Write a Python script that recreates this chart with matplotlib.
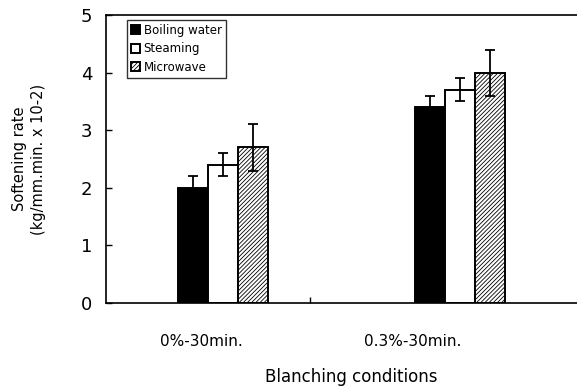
import matplotlib
matplotlib.use("Agg")
import matplotlib.pyplot as plt
import numpy as np

categories = ["0%-30min.", "0.3%-30min."]
series = ["Boiling water", "Steaming", "Microwave"]
boiling = [2.0, 3.4]
steaming = [2.4, 3.7]
microwave = [2.7, 4.0]
boiling_err = [0.2, 0.2]
steaming_err = [0.2, 0.2]
microwave_err = [0.4, 0.4]

plt.rcParams['hatch.linewidth'] = 0.6
fig = plt.figure(figsize=(5.77, 3.9), dpi=100)
ax = fig.add_axes([106/577, 87/390, 490/577, 288/390])

label_pos = np.array([0.0, 1.0])
group_centers = np.array([0.105, 1.222])
w = 0.142

styles = [dict(color="black", edgecolor="black"),
          dict(color="white", edgecolor="black"),
          dict(color="white", edgecolor="black", hatch="////////")]
vals = [boiling, steaming, microwave]
errs = [boiling_err, steaming_err, microwave_err]
for i, (name, v, e, st) in enumerate(zip(series, vals, errs, styles)):
    x = group_centers + (i - 1) * w
    ax.bar(x, v, width=w, linewidth=1.4, label=name, zorder=2, **st)
    ax.errorbar(x, v, yerr=e, fmt="none", ecolor="black", elinewidth=1.3,
                capsize=3.3, capthick=1.3, zorder=3)

ax.set_ylim(0, 5)
ax.set_xlim(-0.448, 1.863)
ax.set_yticks([0, 1, 2, 3, 4, 5])
ax.tick_params(axis="y", direction="in", length=4, width=1, labelsize=13, pad=10)
ax.set_xticks(label_pos)
ax.set_xticklabels(categories, fontsize=11)
ax.tick_params(axis="x", length=0, pad=22)
ax.set_xticks([0.514], minor=True)
ax.tick_params(axis="x", which="minor", direction="in", length=4, width=1)
for s in ax.spines.values():
    s.set_linewidth(1.2)
ax.spines["right"].set_visible(False)

ax.set_xlabel("Blanching conditions", fontsize=12, labelpad=14)
ax.set_ylabel("Softening rate\n(kg/mm.min. x 10-2)", fontsize=10.5, labelpad=25,
              linespacing=1.35)

leg = ax.legend(loc="upper left", bbox_to_anchor=(0.042, 0.983), fontsize=8.5,
                frameon=True, fancybox=False, edgecolor="black",
                handlelength=0.8, handleheight=0.8, handletextpad=0.3,
                borderpad=0.35, labelspacing=0.45, borderaxespad=0)
leg.get_frame().set_linewidth(1.0)

fig.savefig("out.png", dpi=100)
